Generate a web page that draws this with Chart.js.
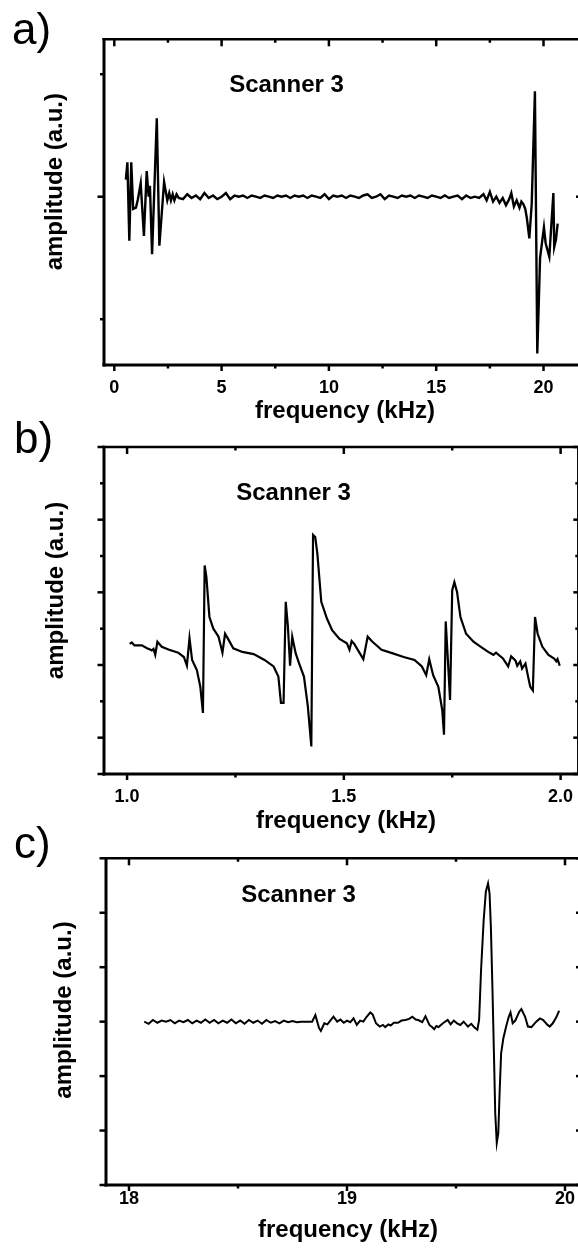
<!DOCTYPE html>
<html><head><meta charset="utf-8">
<script src="https://cdn.jsdelivr.net/npm/chart.js@4.4.0/dist/chart.umd.min.js"></script>
<style>
html,body{margin:0;padding:0;background:#fff;overflow:hidden;width:578px;height:1252px;position:relative;}
.p{position:absolute;left:0;width:586px;}
canvas{display:block;}
</style></head><body>
<div class="p" style="top:0px;height:425px"><canvas id="ca" width="586" height="425" style="width:586px;height:425px"></canvas></div>
<div class="p" style="top:415px;height:430px"><canvas id="cb" width="586" height="430" style="width:586px;height:430px"></canvas></div>
<div class="p" style="top:815px;height:437px"><canvas id="cc" width="586" height="437" style="width:586px;height:437px"></canvas></div>
<script>
// ---------- data ----------
const panelLabels = ['a)', 'b)', 'c)'];
const seriesTitle = 'Scanner 3';
const xTitle = 'frequency (kHz)';
const yTitle = 'amplitude (a.u.)';

// panel a : 0-21 kHz
const freqA = [0.54,0.61,0.70,0.79,0.88,1.01,1.10,1.23,1.38,1.51,1.60,1.66,1.76,1.98,2.10,2.32,2.47,2.56,2.64,2.72,2.80,2.90,3.0,
  3.2,3.4,3.6,3.8,4.0,4.2,4.4,4.6,4.8,5.0,5.2,5.4,5.6,5.8,6.0,6.2,6.4,6.6,6.8,7.0,7.2,7.4,7.6,7.8,8.0,8.2,8.4,8.6,8.8,9.0,9.2,9.4,9.6,9.8,
  10.0,10.2,10.4,10.6,10.8,11.0,11.2,11.4,11.6,11.8,12.0,12.2,12.4,12.6,12.8,13.0,13.2,13.4,13.6,13.8,14.0,14.2,14.4,14.6,14.8,
  15.0,15.2,15.4,15.6,15.8,16.0,16.2,16.4,16.6,16.8,17.0,17.2,17.35,17.5,17.65,17.8,17.95,18.1,18.25,18.4,18.5,18.62,18.75,18.88,18.97,
  19.06,19.15,19.22,19.34,19.45,19.60,19.71,19.84,20.02,20.10,20.27,20.46,20.50,20.58,20.66];
const ampA = [0.14,0.28,-0.36,0.28,-0.10,-0.09,-0.02,0.11,-0.32,0.21,0.00,0.09,-0.47,0.64,-0.40,0.12,-0.03,0.03,-0.03,0.02,-0.03,0.02,-0.01,
  -0.02,0.02,-0.01,0.01,-0.02,0.03,-0.01,0.01,-0.02,0.00,0.03,-0.02,0.01,0.00,0.01,-0.01,0.01,0.00,-0.01,0.01,0.00,-0.01,0.01,0.00,0.01,-0.01,0.01,0.00,0.01,-0.01,0.01,0.00,-0.01,0.02,
  -0.02,0.01,0.00,0.01,-0.01,0.01,0.00,-0.01,0.01,0.02,-0.01,0.00,0.02,-0.02,0.01,0.00,-0.01,0.01,0.00,0.01,-0.01,0.01,0.00,-0.01,0.01,
  0.00,-0.01,0.01,-0.01,0.00,0.01,-0.02,0.01,-0.01,0.00,-0.01,0.02,-0.03,0.04,-0.04,0.00,-0.05,-0.01,-0.07,-0.02,0.03,-0.08,-0.03,-0.09,-0.04,
  -0.06,-0.10,-0.17,-0.34,-0.06,0.86,-1.28,-0.50,-0.25,-0.38,-0.49,0.03,-0.41,-0.35,-0.22];
const xTicksA = [0, 5, 10, 15, 20];
const xTickLabelsA = ['0', '5', '10', '15', '20'];
const xMinorA = [2.5, 7.5, 12.5, 17.5];
const yTicksA = [0];
const yMinorA = [-1, 1];

// panel b : 1-2 kHz
const freqB = [1.006,1.011,1.017,1.034,1.046,1.053,1.057,1.061,1.065,1.070,1.080,1.097,1.118,1.131,1.138,1.144,1.150,1.161,1.169,1.175,
  1.179,1.183,1.190,1.199,1.211,1.220,1.226,1.232,1.245,1.266,1.292,1.317,1.338,1.349,1.355,1.361,1.366,1.371,1.376,1.381,1.389,1.397,
  1.408,1.417,1.425,1.429,1.434,1.439,1.448,1.461,1.473,1.490,1.507,1.513,1.518,1.524,1.537,1.545,1.555,1.566,1.587,1.613,1.638,1.663,
  1.680,1.690,1.697,1.706,1.718,1.727,1.731,1.735,1.740,1.745,1.750,1.755,1.761,1.769,1.782,1.799,1.816,1.833,1.845,1.851,1.867,1.879,
  1.886,1.896,1.900,1.907,1.911,1.919,1.925,1.930,1.936,1.941,1.947,1.958,1.972,1.985,1.990,1.993,1.998];
const ampB = [0.29,0.31,0.27,0.27,0.23,0.215,0.20,0.22,0.14,0.32,0.25,0.21,0.17,0.11,-0.01,0.37,0.07,-0.07,-0.30,-0.66,
  1.37,1.21,0.66,0.50,0.39,0.17,0.43,0.37,0.23,0.18,0.15,0.07,-0.02,-0.16,-0.52,-0.52,0.87,0.53,-0.01,0.39,0.16,0.02,
  -0.16,-0.57,-1.12,1.79,1.76,1.53,0.87,0.64,0.48,0.36,0.30,0.21,0.33,0.29,0.16,0.08,0.39,0.32,0.21,0.16,0.11,0.07,
  -0.02,-0.14,0.08,-0.14,-0.30,-0.62,-0.96,0.60,0.07,-0.48,1.03,1.14,1.01,0.66,0.43,0.32,0.25,0.18,0.14,0.17,0.09,-0.02,
  0.12,0.06,-0.01,0.05,-0.05,0.02,-0.16,-0.30,-0.35,0.66,0.43,0.25,0.14,0.09,0.05,0.08,-0.01];
const xTicksB = [1.0, 1.5, 2.0];
const xTickLabelsB = ['1.0', '1.5', '2.0'];
const xMinorB = [1.25, 1.75];
const yTicksB = [-1.5, -1, 0, 1, 2, 3];
const yMinorB = [-0.5, 0.5, 1.5, 2.5];

// panel c : 18-20 kHz
const freqC = [18.07,18.09,18.11,18.13,18.15,18.17,18.19,18.21,18.23,18.25,18.27,18.29,18.31,18.33,18.35,18.37,18.39,18.41,18.43,18.45,
  18.47,18.49,18.51,18.53,18.55,18.57,18.59,18.61,18.63,18.65,18.67,18.69,18.71,18.73,18.75,18.77,18.79,18.81,18.84,
  18.855,18.872,18.88,18.896,18.91,18.938,18.955,18.97,18.985,19.0,19.015,19.03,19.045,19.06,19.075,19.09,19.107,19.118,19.133,19.15,
  19.165,19.175,19.19,19.20,19.215,19.234,19.25,19.268,19.285,19.30,19.315,19.327,19.345,19.36,19.378,19.39,19.40,19.41,19.42,19.44,
  19.462,19.475,19.49,19.505,19.52,19.535,19.555,19.57,19.585,19.598,19.606,19.615,19.627,19.637,19.647,19.654,19.660,19.667,19.674,
  19.680,19.687,19.694,19.700,19.707,19.717,19.730,19.742,19.750,19.760,19.772,19.790,19.800,19.817,19.830,19.846,19.868,19.885,19.900,
  19.920,19.930,19.944,19.960,19.973];
const ampC = [0.00,-0.04,0.03,-0.02,0.02,0.00,0.03,-0.03,0.02,-0.01,0.03,-0.03,0.02,-0.02,0.04,-0.02,0.03,-0.03,0.02,-0.02,
  0.04,-0.03,0.02,-0.04,0.03,-0.02,0.02,-0.04,0.03,-0.02,0.01,-0.03,0.02,-0.01,0.01,-0.01,0.00,0.00,0.00,
  0.12,-0.12,-0.17,-0.03,-0.05,0.09,0.00,0.04,-0.02,0.02,-0.01,0.06,-0.06,0.02,0.00,0.09,0.17,0.13,-0.03,-0.09,
  -0.06,-0.10,-0.05,-0.07,-0.02,-0.02,0.02,0.03,0.05,0.09,0.04,0.03,-0.01,0.10,-0.06,-0.10,-0.14,-0.08,-0.10,-0.03,
  0.03,-0.05,0.02,-0.03,-0.06,0.00,-0.09,-0.04,-0.11,-0.15,0.03,0.95,1.87,2.39,2.54,2.35,1.74,0.64,-0.58,
  -1.68,-2.23,-2.05,-1.31,-0.58,-0.31,-0.09,0.09,0.17,-0.03,0.02,0.18,0.23,0.09,-0.09,-0.10,0.00,0.06,0.03,
  -0.06,-0.09,-0.03,0.08,0.20];
const xTicksC = [18, 19, 20];
const xTickLabelsC = ['18', '19', '20'];
const xMinorC = [18.5, 19.5];
const yTicksC = [-3, -2, -1, 0, 1, 2, 3];
const yMinorC = [];

// ---------- drawing ----------
const FONT = '"Liberation Sans", Arial, Helvetica, sans-serif';
const W = 586;

function makePanel(id, c) {
  const decor = {
    id: 'decor_' + id,
    afterDraw(chart) {
      const {ctx, chartArea: a, scales: {x, y}} = chart;
      const line = (x1, y1, x2, y2, w) => { ctx.lineWidth = w; ctx.beginPath(); ctx.moveTo(x1, y1); ctx.lineTo(x2, y2); ctx.stroke(); };
      ctx.save();
      ctx.strokeStyle = '#000';
      ctx.lineCap = 'butt';
      // frame
      line(a.left - 1.5, a.top, a.right, a.top, 2.5);
      line(a.left - 1.5, a.bottom, a.right, a.bottom, 3);
      line(a.left, a.top - 1.2, a.left, a.bottom + 1.5, 3);
      line(a.right, a.top, a.right, a.bottom, 2.5);
      // x ticks
      c.xMajor.forEach(v => { const p = x.getPixelForValue(v); line(p, a.bottom, p, a.bottom + 6, 2.5); line(p, a.top, p, a.top + 7, 2.5); });
      c.xMinor.forEach(v => { const p = x.getPixelForValue(v); line(p, a.bottom, p, a.bottom + 3.5, 2.5); line(p, a.top, p, a.top + 3.5, 2.5); });
      // y ticks
      c.yMajor.forEach(v => { const p = y.getPixelForValue(v); line(a.left - 6.5, p, a.left, p, 2.5); line(a.right - 5, p, a.right, p, 2.5); });
      c.yMinor.forEach(v => { const p = y.getPixelForValue(v); line(a.left - 4, p, a.left, p, 2.5); line(a.right - 3, p, a.right, p, 2.5); });
      // texts
      ctx.fillStyle = '#000';
      ctx.textBaseline = 'alphabetic';
      ctx.font = '44px ' + FONT;
      ctx.textAlign = 'left';
      ctx.fillText(c.label, c.labelX, c.labelY - c.top);
      ctx.font = 'bold 24px ' + FONT;
      ctx.textAlign = 'center';
      ctx.fillText(seriesTitle, c.nameX, c.nameY - c.top);
      ctx.fillText(xTitle, c.xtX, c.xtY - c.top);
      ctx.save();
      ctx.translate(c.ytX, c.ytY - c.top);
      ctx.rotate(-Math.PI / 2);
      ctx.fillText(yTitle, 0, 0);
      ctx.restore();
      ctx.restore();
    }
  };
  const bottomSpace = c.H - (c.B - c.top);
  return new Chart(document.getElementById(id), {
    type: 'line',
    data: { datasets: [{
      data: c.freq.map((f, i) => ({ x: f, y: c.amp[i] })),
      borderColor: '#000', borderWidth: c.lw, pointRadius: 0, tension: 0, fill: false, borderJoinStyle: 'miter'
    }] },
    options: {
      responsive: false, animation: false, devicePixelRatio: 1,
      layout: { padding: { left: c.L, top: c.T - c.top, right: W - c.R, bottom: 0 } },
      plugins: { legend: { display: false }, tooltip: { enabled: false } },
      scales: {
        x: {
          type: 'linear', position: 'bottom', min: c.xMin, max: c.xMax,
          afterFit: s => { s.height = bottomSpace; },
          afterBuildTicks: s => { s.ticks = c.xMajor.map(v => ({ value: v })); },
          grid: { display: false, drawTicks: false }, border: { display: false },
          ticks: { padding: c.tickPad, color: '#000', autoSkip: false, maxRotation: 0,
            font: { family: FONT, size: 18, weight: 'bold' },
            callback: (v, i) => c.xLabels[i] }
        },
        y: {
          type: 'linear', min: c.yMin, max: c.yMax,
          afterFit: s => { s.width = 0; },
          grid: { display: false, drawTicks: false }, border: { display: false },
          ticks: { display: false }
        }
      }
    },
    plugins: [decor]
  });
}

makePanel('ca', {
  top: 0, H: 425, L: 104, T: 39.3, R: 581, B: 365,
  xMin: -0.48, xMax: 21.747, yMin: -1.374, yMax: 1.285,
  freq: freqA, amp: ampA, xMajor: xTicksA, xLabels: xTickLabelsA, xMinor: xMinorA, yMajor: yTicksA, yMinor: yMinorA,
  tickPad: 12.2, lw: 2.4,
  label: panelLabels[0], labelX: 12, labelY: 43.5,
  nameX: 286.5, nameY: 91.7, xtX: 345, xtY: 418, ytX: 62, ytY: 181.7
});
makePanel('cb', {
  top: 415, H: 430, L: 104, T: 447, R: 581, B: 774,
  xMin: 0.9468, xMax: 2.0408, yMin: -1.5, yMax: 3.0,
  freq: freqB, amp: ampB, xMajor: xTicksB, xLabels: xTickLabelsB, xMinor: xMinorB, yMajor: yTicksB, yMinor: yMinorB,
  tickPad: 12.7, lw: 2.2,
  label: panelLabels[1], labelX: 14, labelY: 453,
  nameX: 293.6, nameY: 500, xtX: 346, xtY: 828, ytX: 63, ytY: 590.5
});
makePanel('cc', {
  top: 815, H: 437, L: 106, T: 858.3, R: 581, B: 1185,
  xMin: 17.8945, xMax: 20.0734, yMin: -3, yMax: 3,
  freq: freqC, amp: ampC, xMajor: xTicksC, xLabels: xTickLabelsC, xMinor: xMinorC, yMajor: yTicksC, yMinor: yMinorC,
  tickPad: 3.2, lw: 2.0,
  label: panelLabels[2], labelX: 14, labelY: 858,
  nameX: 298.5, nameY: 901.7, xtX: 348, xtY: 1237, ytX: 70.5, ytY: 1010
});
</script>
</body></html>
